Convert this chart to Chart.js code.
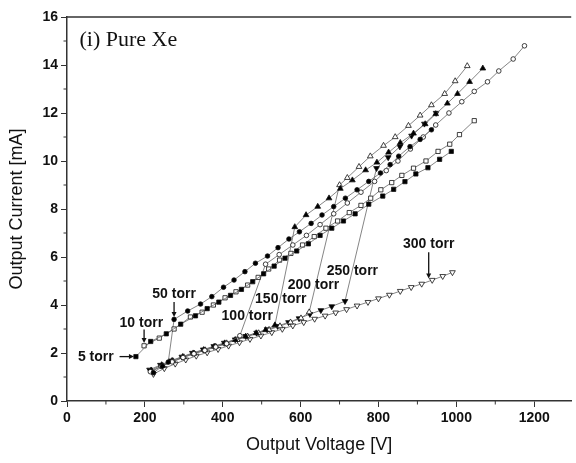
<!DOCTYPE html>
<html><head><meta charset="utf-8">
<script src="https://cdn.jsdelivr.net/npm/chart.js@4.4.1/dist/chart.umd.min.js"></script>
<style>html,body{margin:0;padding:0;background:#fff;overflow:hidden}</style>
</head><body>
<canvas id="c" width="576" height="463" style="width:576px;height:463px;display:block"></canvas>
<script>
// ---- data (Output Voltage [V], Output Current [mA]) ----
const seriesNames = ['5 torr','10 torr','50 torr','100 torr','150 torr','200 torr','250 torr','300 torr'];
const v5  = [177,215,255,292,330,360,390,420,448,477,505,532,560,590,620,650,680,710,740,775,811,839,868,896,927,957,987];
const i5  = [1.85,2.48,2.8,3.2,3.55,3.85,4.12,4.4,4.65,4.97,5.3,5.62,5.95,6.25,6.55,6.9,7.2,7.5,7.8,8.2,8.54,8.82,9.14,9.46,9.72,10.07,10.4];
const v10 = [198,237,275,317,347,376,406,434,464,491,518,546,575,605,635,665,695,725,755,780,806,834,860,890,922,953,983,1008,1046];
const i10 = [2.3,2.62,3.0,3.5,3.7,4.0,4.3,4.55,4.83,5.15,5.5,5.87,6.15,6.5,6.85,7.2,7.5,7.85,8.15,8.45,8.8,9.1,9.4,9.7,10.0,10.4,10.7,11.1,11.68];
const v50 = [222,245,260,275,310,343,372,402,429,457,484,515,542,570,597,627,655,685,715,745,775,805,830,852,881,907,936];
const i50 = [1.18,1.45,1.62,3.4,3.75,4.04,4.35,4.74,5.04,5.39,5.74,6.04,6.39,6.75,7.05,7.4,7.75,8.1,8.45,8.8,9.15,9.5,9.85,10.2,10.6,10.9,11.3];
const v100 = [214,242,270,298,326,354,382,410,444,510,545,580,615,650,685,720,755,790,820,850,882,915,947,981,1014,1046,1080,1109,1146,1175];
const i100 = [1.22,1.44,1.63,1.81,1.97,2.11,2.25,2.39,2.72,5.7,6.1,6.5,6.9,7.35,7.8,8.25,8.7,9.15,9.6,10.0,10.5,11.0,11.5,12.0,12.47,12.9,13.3,13.75,14.25,14.8];
const v150 = [216,243,270,297,324,351,378,405,432,459,486,510,534,585,614,644,673,702,733,767,796,826,856,890,920,947,977,1003,1034,1068];
const i150 = [1.28,1.5,1.68,1.84,1.99,2.13,2.27,2.41,2.55,2.69,2.83,2.96,3.16,7.25,7.75,8.1,8.45,8.85,9.2,9.62,9.94,10.36,10.76,11.15,11.54,11.96,12.4,12.8,13.3,13.86];
const v200 = [218,246,273,300,327,355,382,410,437,464,492,519,547,574,601,622,700,720,750,779,813,843,877,907,936,970,997,1028];
const i200 = [1.25,1.47,1.66,1.83,1.98,2.12,2.27,2.41,2.55,2.69,2.83,2.97,3.12,3.28,3.45,3.7,9.0,9.3,9.76,10.2,10.64,11.0,11.47,11.9,12.33,12.8,13.33,13.96];
const v250 = [212,240,267,295,322,350,377,404,432,459,487,514,541,569,596,624,652,680,714,795,825,855,885,918,948];
const i250 = [1.3,1.5,1.68,1.84,2.0,2.14,2.28,2.42,2.56,2.7,2.84,2.98,3.12,3.28,3.44,3.62,3.78,3.94,4.16,9.7,10.15,10.6,11.05,11.55,12.0];
const v300 = [222,250,278,305,332,360,388,415,443,470,498,526,553,580,608,636,663,690,718,745,773,800,828,856,884,911,938,965,990];
const i300 = [1.12,1.36,1.55,1.72,1.88,2.02,2.16,2.3,2.44,2.58,2.72,2.86,3.0,3.14,3.28,3.42,3.55,3.68,3.82,3.97,4.12,4.27,4.42,4.58,4.74,4.88,5.04,5.2,5.36];

const xMajorTicks = [0,200,400,600,800,1000,1200];
const xMinorTicks = [100,300,500,700,900,1100,1300];
const yMajorTicks = [0,2,4,6,8,10,12,14,16];
const yMinorTicks = [1,3,5,7,9,11,13,15];

// ---- styles ----
const styles = [
  {pointStyle:'rect', r:3.0, fill:true, rot:0},
  {pointStyle:'rect', r:3.0, fill:false, rot:0},
  {pointStyle:'circle', r:2.3, fill:true, rot:0},
  {pointStyle:'circle', r:2.3, fill:false, rot:0},
  {pointStyle:'triangle', r:3.3, fill:true, rot:0},
  {pointStyle:'triangle', r:3.3, fill:false, rot:0},
  {pointStyle:'triangle', r:3.3, fill:true, rot:180},
  {pointStyle:'triangle', r:3.3, fill:false, rot:180}
];
const allV = [v5,v10,v50,v100,v150,v200,v250,v300];
const allI = [i5,i10,i50,i100,i150,i200,i250,i300];

const datasets = seriesNames.map((name,k)=>({
  label: name,
  data: allV[k].map((v,j)=>({x:v, y:allI[k][j]})),
  showLine: true,
  borderColor: '#666',
  borderWidth: 0.8,
  pointStyle: styles[k].pointStyle,
  pointRadius: styles[k].r,
  pointRotation: styles[k].rot,
  pointBackgroundColor: styles[k].fill ? '#000' : '#fff',
  pointBorderColor: '#111',
  pointBorderWidth: 0.8,
  tension: 0
}));

// ---- annotations (data coordinates) ----
const labelTexts = ['5 torr','10 torr','50 torr','100 torr','150 torr','200 torr','250 torr','300 torr'];
const labelPos = [[28,1.83,'left'],[191,3.25,'center'],[275,4.46,'center'],[397,3.54,'left'],[483,4.25,'left'],[567,4.83,'left'],[667,5.42,'left'],[929,6.54,'center']];
const arrows = [[135,1.85,172,1.85],[198,2.98,198,2.42],[275,4.12,275,3.5],[929,6.2,929,5.1]];

const decor = {
  id:'decor',
  afterDraw(chart){
    const ctx = chart.ctx, xs = chart.scales.x, ys = chart.scales.y, ca = chart.chartArea;
    ctx.save();
    ctx.strokeStyle = '#333'; ctx.lineWidth = 1.5;
    ctx.beginPath(); ctx.moveTo(ca.left, ca.top); ctx.lineTo(ca.right, ca.top); ctx.stroke();
    ctx.lineWidth = 1;
    xMinorTicks.forEach(v=>{const p=xs.getPixelForValue(v); if(p<=ca.right){ctx.beginPath();ctx.moveTo(p,ca.bottom);ctx.lineTo(p,ca.bottom+3.5);ctx.stroke();}});
    yMinorTicks.forEach(v=>{const p=ys.getPixelForValue(v); ctx.beginPath();ctx.moveTo(ca.left,p);ctx.lineTo(ca.left-3.5,p);ctx.stroke();});
    ctx.fillStyle = '#111';
    ctx.font = '22px "Liberation Serif", "DejaVu Serif", serif';
    ctx.textAlign = 'left'; ctx.textBaseline = 'middle';
    ctx.fillText('(i) Pure Xe', xs.getPixelForValue(32), ys.getPixelForValue(15.05));
    ctx.font = 'bold 14px "Liberation Sans", Arial, sans-serif';
    labelTexts.forEach((t,k)=>{
      ctx.textAlign = labelPos[k][2];
      ctx.fillText(t, xs.getPixelForValue(labelPos[k][0]), ys.getPixelForValue(labelPos[k][1]));
    });
    ctx.strokeStyle = '#111'; ctx.fillStyle = '#111'; ctx.lineWidth = 1.3;
    arrows.forEach(a=>{
      const x1=xs.getPixelForValue(a[0]), y1=ys.getPixelForValue(a[1]);
      const x2=xs.getPixelForValue(a[2]), y2=ys.getPixelForValue(a[3]);
      const ang=Math.atan2(y2-y1,x2-x1), h=5;
      ctx.beginPath(); ctx.moveTo(x1,y1); ctx.lineTo(x2-Math.cos(ang)*h*0.8,y2-Math.sin(ang)*h*0.8); ctx.stroke();
      ctx.beginPath(); ctx.moveTo(x2,y2);
      ctx.lineTo(x2-h*Math.cos(ang)+2.5*Math.sin(ang), y2-h*Math.sin(ang)-2.5*Math.cos(ang));
      ctx.lineTo(x2-h*Math.cos(ang)-2.5*Math.sin(ang), y2-h*Math.sin(ang)+2.5*Math.cos(ang));
      ctx.closePath(); ctx.fill();
    });
    ctx.restore();
  }
};

const tickFont = {family:'"Liberation Sans", Arial, sans-serif', size:14, weight:'bold'};
const titleFont = {family:'"Liberation Sans", Arial, sans-serif', size:18};

new Chart(document.getElementById('c'), {
  type: 'scatter',
  data: {datasets},
  options: {
    responsive:false, animation:false, devicePixelRatio:1,
    layout:{padding:{top:17,right:0,bottom:0,left:0}},
    plugins:{legend:{display:false}, tooltip:{enabled:false}},
    scales:{
      x:{
        type:'linear', min:0, max:1295,
        afterBuildTicks(s){ s.ticks = xMajorTicks.map(v=>({value:v})); },
        afterFit(s){ s.height = 62; },
        ticks:{color:'#111', font:tickFont, padding:3, maxRotation:0, autoSkip:false, callback:(v)=>String(v)},
        grid:{drawOnChartArea:false, drawTicks:true, tickLength:6, tickColor:'#333', tickWidth:1},
        border:{display:true, color:'#333', width:1.5},
        title:{display:true, text:'Output Voltage [V]', color:'#111', font:titleFont, padding:{top:0,bottom:7}}
      },
      y:{
        type:'linear', min:0, max:16,
        afterBuildTicks(s){ s.ticks = yMajorTicks.map(v=>({value:v})); },
        afterFit(s){ s.width = 67; },
        ticks:{color:'#111', font:tickFont, padding:3, autoSkip:false, callback:(v)=>String(v)},
        grid:{drawOnChartArea:false, drawTicks:true, tickLength:6, tickColor:'#333', tickWidth:1},
        border:{display:true, color:'#333', width:1.5},
        title:{display:true, text:'Output Current [mA]', color:'#111', font:titleFont, padding:{top:6,bottom:0}}
      }
    }
  },
  plugins:[decor]
});
</script>
</body></html>
